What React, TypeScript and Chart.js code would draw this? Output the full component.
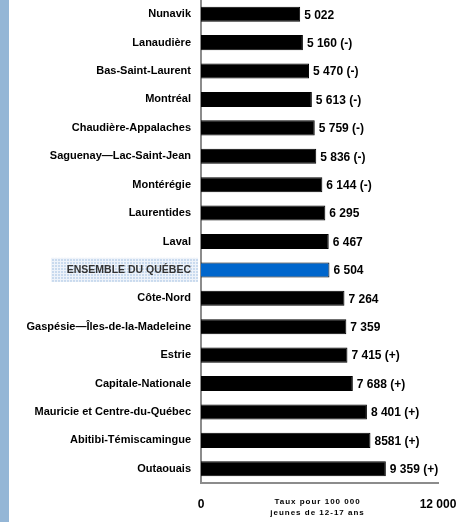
import React, { useEffect, useRef } from "react";
import { Chart, registerables } from "chart.js";

Chart.register(...registerables);

const regions = [
  "Nunavik",
  "Lanaudière",
  "Bas-Saint-Laurent",
  "Montréal",
  "Chaudière-Appalaches",
  "Saguenay—Lac-Saint-Jean",
  "Montérégie",
  "Laurentides",
  "Laval",
  "ENSEMBLE DU QUÉBEC",
  "Côte-Nord",
  "Gaspésie—Îles-de-la-Madeleine",
  "Estrie",
  "Capitale-Nationale",
  "Mauricie et Centre-du-Québec",
  "Abitibi-Témiscamingue",
  "Outaouais",
];

const rates = [
  5022, 5160, 5470, 5613, 5759, 5836, 6144, 6295, 6467, 6504, 7264, 7359, 7415,
  7688, 8401, 8581, 9359,
];

const valueLabels = [
  "5 022",
  "5 160 (-)",
  "5 470 (-)",
  "5 613 (-)",
  "5 759 (-)",
  "5 836 (-)",
  "6 144 (-)",
  "6 295",
  "6 467",
  "6 504",
  "7 264",
  "7 359",
  "7 415 (+)",
  "7 688 (+)",
  "8 401 (+)",
  "8581 (+)",
  "9 359 (+)",
];

const xTickValues = [0, 12000];
const xTickLabels = ["0", "12 000"];
const axisTitle = ["Taux pour 100 000", "jeunes de 12-17 ans"];
const highlightIndex = 9;

const FONT = "'Liberation Sans', Arial, sans-serif";

export default function App() {
  const ref = useRef<HTMLCanvasElement>(null);

  useEffect(() => {
    if (!ref.current) return;

    const decor = {
      id: "decor",
      beforeDraw(chart: any) {
        const { ctx } = chart;
        ctx.save();
        ctx.fillStyle = "#ffffff";
        ctx.fillRect(0, 0, chart.width, chart.height);
        ctx.fillStyle = "#94b6d6";
        ctx.fillRect(0, 0, 9, chart.height);
        // highlight box behind ensemble label
        const y = chart.scales.y.getPixelForValue(highlightIndex);
        const pc = document.createElement("canvas");
        pc.width = 3;
        pc.height = 3;
        const pctx = pc.getContext("2d")!;
        pctx.fillStyle = "#c9daee";
        pctx.fillRect(0, 0, 3, 3);
        pctx.fillStyle = "#eef3fa";
        pctx.fillRect(0, 0, 3, 1);
        pctx.fillRect(0, 0, 1, 3);
        const pat = ctx.createPattern(pc, "repeat");
        ctx.fillStyle = pat || "#d0dff0";
        ctx.fillRect(51, y - 12, 147, 24);
        ctx.restore();
      },
      afterDatasetsDraw(chart: any) {
        const { ctx } = chart;
        const meta = chart.getDatasetMeta(0);
        ctx.save();
        ctx.font = `bold 12px ${FONT}`;
        ctx.fillStyle = "#000";
        ctx.textAlign = "left";
        ctx.textBaseline = "middle";
        meta.data.forEach((el: any, i: number) => {
          ctx.fillText(valueLabels[i], el.x + 4, el.y + 1);
        });
        // axis title
        const ca = chart.chartArea;
        const cx = (ca.left + ca.right) / 2 - 2;
        ctx.font = `bold 8px ${FONT}`;
        (ctx as any).letterSpacing = "1px";
        ctx.textAlign = "center";
        ctx.fillText(axisTitle[0], cx, ca.bottom + 19);
        ctx.fillText(axisTitle[1], cx, ca.bottom + 30);
        (ctx as any).letterSpacing = "0px";
        ctx.restore();
      },
    };

    const chart = new Chart(ref.current, {
      type: "bar",
      data: {
        labels: regions,
        datasets: [
          {
            data: rates,
            backgroundColor: rates.map((_, i) =>
              i === highlightIndex ? "#0066cc" : "#000000"
            ),
            borderColor: "#000000",
            borderWidth: 1,
            barPercentage: 0.53,
            categoryPercentage: 1,
          },
        ],
      },
      options: {
        indexAxis: "y",
        responsive: false,
        animation: false,
        layout: { padding: { top: 0, left: 0, bottom: 0, right: 19 } },
        plugins: {
          legend: { display: false },
          tooltip: { enabled: false },
        },
        scales: {
          x: {
            min: 0,
            max: 12000,
            grid: { display: false, drawTicks: false },
            border: { display: true, color: "#8c8c8c", width: 2 },
            afterBuildTicks(scale: any) {
              scale.ticks = xTickValues.map((v) => ({ value: v }));
            },
            afterFit(scale: any) {
              scale.height = 39;
              scale.paddingLeft = 0;
              scale.paddingRight = 0;
            },
            ticks: {
              padding: 14,
              maxRotation: 0,
              autoSkip: false,
              color: "#000",
              font: { family: FONT, size: 12, weight: "bold" },
              callback: (_v: any, i: number) => xTickLabels[i],
            },
          },
          y: {
            grid: { display: false, drawTicks: false },
            border: { display: true, color: "#8c8c8c", width: 2 },
            afterFit(scale: any) {
              scale.width = 201;
              scale.paddingTop = 0;
              scale.paddingBottom = 0;
            },
            ticks: {
              padding: 10,
              autoSkip: false,
              color: (c: any) => (c.index === highlightIndex ? "#333333" : "#000000"),
              font: (c: any) =>
                c.index === highlightIndex
                  ? { family: FONT, size: 10.5, weight: "bold" }
                  : { family: FONT, size: 11, weight: "bold" },
            },
          },
        },
      },
      plugins: [decor],
    } as any);

    return () => chart.destroy();
  }, []);

  return (
    <div style={{ position: "absolute", left: 0, top: 0, width: 457, height: 522 }}>
      <canvas ref={ref} width={457} height={522} />
    </div>
  );
}
